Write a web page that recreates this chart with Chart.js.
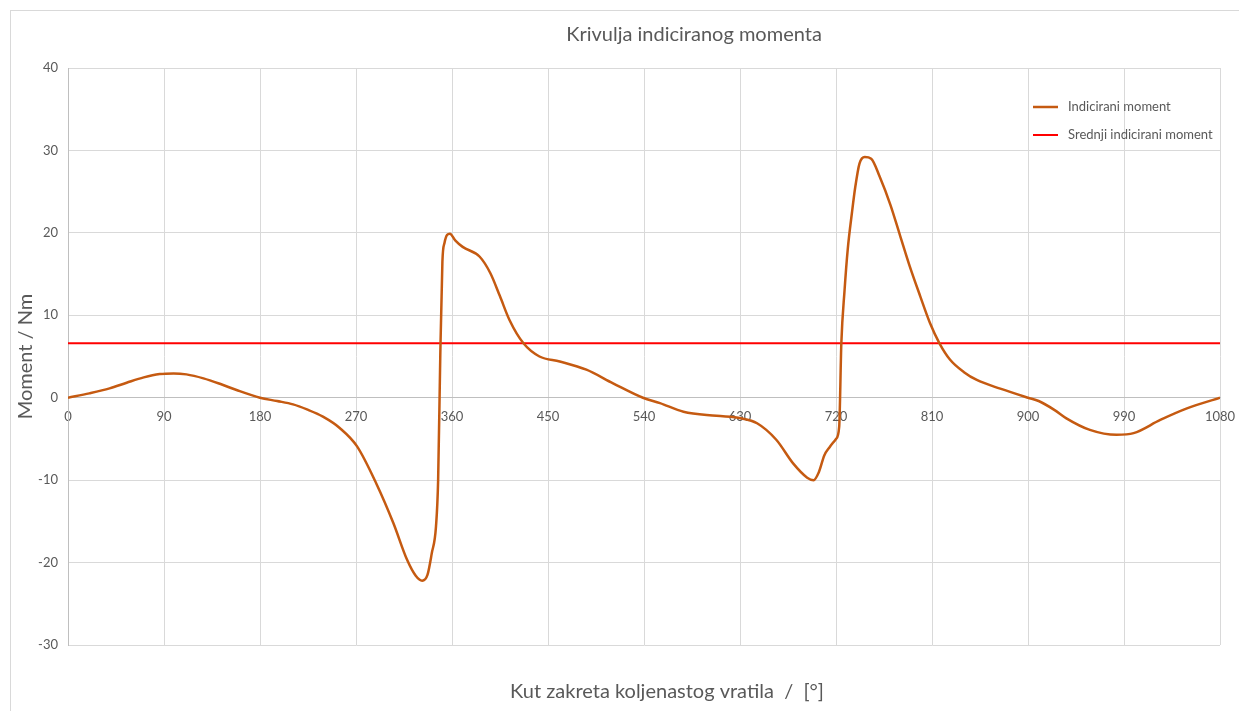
<!DOCTYPE html>
<html>
<head>
<meta charset="utf-8">
<script src="https://cdn.jsdelivr.net/npm/chart.js@4.4.1/dist/chart.umd.min.js"></script>
<style>
    body { margin: 0; background: #fff; }
    #frame {
        position: absolute; left: 10px; top: 10px;
        width: 1240px; height: 710px;
        border: 1px solid #d9d9d9;
    }
    #wrap { position: absolute; left: 0; top: 0; width: 1239px; height: 711px; }
</style>
</head>
<body>
<div id="frame"></div>
<div id="wrap"><canvas id="momentChart" width="1239" height="711"></canvas></div>
<script>
// crank angle [deg] and indicated torque [Nm]
const angles = [0, 20, 39, 55, 71, 86, 99, 111, 127, 143, 158, 180, 196, 211, 224, 239, 255, 271, 289, 305, 318, 326,
    332, 337, 341, 345, 347, 349, 351, 353, 358, 363, 370, 386, 396, 405, 414, 427, 442, 461, 486, 511, 539, 555, 577,
    608, 631, 646, 664, 680, 693, 699, 704, 709, 714, 720, 723, 725, 728, 731, 735, 738, 742, 747, 753, 761, 771, 780,
    789, 799, 808, 817, 827, 840, 852, 874, 900, 910, 925, 936, 958, 983, 999, 1024, 1049, 1080];
const moments = [0, 0.53, 1.13, 1.82, 2.47, 2.87, 2.95, 2.83, 2.35, 1.66, 0.93, 0, -0.4, -0.81, -1.42, -2.3, -3.7, -5.9, -10.4, -15.2, -19.7, -21.6,
    -22.2, -21.5, -18.9, -15.6, -10, 5, 16.5, 18.8, 19.9, 19.1, 18.3, 17.1, 15.1, 12.3, 9.4, 6.6, 5.0, 4.4, 3.4, 1.75, 0, -0.65, -1.7,
    -2.2, -2.5, -3.1, -5.1, -8.0, -9.7, -10.0, -9.0, -7.0, -6.0, -5.0, -3.5, 6.6, 13, 18, 22.5, 25.5, 28.4, 29.2, 29.0, 26.8, 23.4, 19.7,
    16.0, 12.3, 9.1, 6.6, 4.6, 3.1, 2.15, 1.1, 0, -0.4, -1.5, -2.5, -3.9, -4.5, -4.3, -2.7, -1.3, 0];

const meanAngles = [0, 1080];
const meanMoment = 6.6;

const xTicks = [0, 90, 180, 270, 360, 450, 540, 630, 720, 810, 900, 990, 1080];
const yTicks = [-30, -20, -10, 0, 10, 20, 30, 40];

const textColor = '#595959';
const gridColor = '#d9d9d9';
const fontFamily = 'Lato, "Open Sans", sans-serif';

// legend drawn inside the plot, top right, like the Excel original
const insideLegend = {
    id: 'insideLegend',
    afterDraw(chart) {
        const ctx = chart.ctx;
        const area = chart.chartArea;
        ctx.save();
        ctx.font = '13px ' + fontFamily;
        ctx.textBaseline = 'middle';
        chart.data.datasets.forEach((ds, i) => {
            const x = area.right - 187;
            const y = area.top + 39 + i * 28;
            ctx.strokeStyle = ds.borderColor;
            ctx.lineWidth = ds.borderWidth;
            ctx.beginPath();
            ctx.moveTo(x, y);
            ctx.lineTo(x + 25, y);
            ctx.stroke();
            ctx.fillStyle = textColor;
            ctx.fillText(ds.label, x + 35, y);
        });
        ctx.restore();
    }
};

// Excel centres the titles a bit right of the canvas middle
const shiftTitles = {
    id: 'shiftTitles',
    afterLayout(chart) {
        chart.boxes.forEach(box => {
            if (!box.options || typeof box.options.text !== 'string') return;
            if (box.options.position === 'top') box.left = 168;
            if (box.options.position === 'bottom') box.left = 114;
            box.right = 1220;
        });
    }
};

const ctx = document.getElementById('momentChart').getContext('2d');

new Chart(ctx, {
    type: 'line',
    data: {
        datasets: [
            {
                label: 'Indicirani moment',
                data: angles.map((a, i) => ({ x: a, y: moments[i] })),
                borderColor: '#c55a11',
                borderWidth: 2.5,
                pointRadius: 0,
                cubicInterpolationMode: 'monotone',
                fill: false
            },
            {
                label: 'Srednji indicirani moment',
                data: meanAngles.map(a => ({ x: a, y: meanMoment })),
                borderColor: '#ff0000',
                borderWidth: 2,
                pointRadius: 0,
                fill: false
            }
        ]
    },
    options: {
        responsive: false,
        animation: false,
        layout: {
            padding: { left: 10, right: 19, top: 0, bottom: 0 }
        },
        plugins: {
            legend: { display: false },
            tooltip: { enabled: false },
            title: {
                display: true,
                text: 'Krivulja indiciranog momenta',
                color: textColor,
                font: { family: fontFamily, size: 20, weight: 'normal' },
                padding: { top: 23, bottom: 21 }
            },
            subtitle: {
                display: true,
                position: 'bottom',
                text: 'Kut zakreta koljenastog vratila  /  [°]',
                color: textColor,
                font: { family: fontFamily, size: 20, weight: 'normal' },
                padding: { top: 35, bottom: 7 }
            }
        },
        scales: {
            x: {
                type: 'linear',
                position: { y: 0 },
                min: 0,
                max: 1080,
                afterBuildTicks: scale => { scale.ticks = xTicks.map(v => ({ value: v })); },
                afterFit: scale => { scale.paddingLeft = 0; scale.paddingRight = 0; },
                ticks: {
                    color: textColor,
                    font: { family: fontFamily, size: 13 },
                    maxRotation: 0,
                    padding: 11,
                    callback: v => String(v)
                },
                grid: { color: gridColor, drawTicks: false },
                border: { color: '#bfbfbf' }
            },
            y: {
                min: -30,
                max: 40,
                afterBuildTicks: scale => { scale.ticks = yTicks.map(v => ({ value: v })); },
                afterFit: scale => { scale.width = 58; },
                ticks: {
                    color: textColor,
                    font: { family: fontFamily, size: 13 },
                    padding: 10
                },
                grid: { color: gridColor, drawTicks: false },
                border: { color: '#bfbfbf' },
                title: {
                    display: true,
                    text: 'Moment / Nm',
                    color: textColor,
                    font: { family: fontFamily, size: 20, weight: 'normal' },
                    padding: { top: 4, bottom: 0 }
                }
            }
        }
    },
    plugins: [insideLegend, shiftTitles]
});
</script>
</body>
</html>
